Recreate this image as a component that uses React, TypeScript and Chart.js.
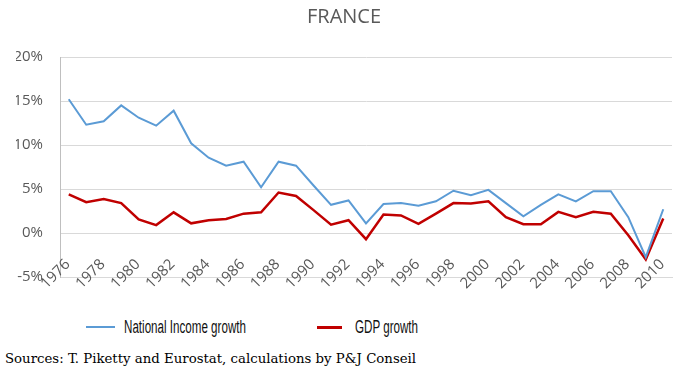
import React, { useEffect, useRef } from "react";
import { Chart, registerables } from "chart.js";

Chart.register(...registerables);

const years = [
  "1976", "1977", "1978", "1979", "1980", "1981", "1982", "1983", "1984", "1985",
  "1986", "1987", "1988", "1989", "1990", "1991", "1992", "1993", "1994", "1995",
  "1996", "1997", "1998", "1999", "2000", "2001", "2002", "2003", "2004", "2005",
  "2006", "2007", "2008", "2009", "2010",
];

const nationalIncomeGrowth = [
  15.2, 12.3, 12.7, 14.5, 13.1, 12.2, 13.9, 10.2, 8.55, 7.65,
  8.1, 5.2, 8.1, 7.65, 5.4, 3.2, 3.7, 1.1, 3.3, 3.4,
  3.1, 3.6, 4.8, 4.3, 4.9, 3.4, 1.9, 3.2, 4.4, 3.6,
  4.75, 4.75, 1.8, -2.75, 2.7,
];

const gdpGrowth = [
  4.4, 3.5, 3.85, 3.4, 1.55, 0.9, 2.35, 1.1, 1.45, 1.6,
  2.2, 2.35, 4.6, 4.2, 2.6, 0.95, 1.45, -0.7, 2.1, 2.0,
  1.05, 2.2, 3.4, 3.35, 3.6, 1.8, 1.0, 1.0, 2.4, 1.8,
  2.4, 2.2, -0.25, -3.0, 1.65,
];

const seriesNames = ["National Income growth", "GDP growth"];
const yTicks = [-5, 0, 5, 10, 15, 20];
const titleText = "FRANCE";
const sourceText = "Sources: T. Piketty and Eurostat, calculations by P&J Conseil";

const BLUE = "#5b9bd5";
const RED = "#c00000";
const GREY = "#595959";
const TICK_FONT = "15px 'Open Sans', sans-serif";

// Draws the rotated year labels so that they overlap the bottom of the plot,
// as in the original spreadsheet chart. Positions come from the x scale.
const rotatedXLabels = {
  id: "rotatedXLabels",
  afterDraw(chart: any) {
    const xs = chart.scales.x;
    const ctx = chart.ctx;
    ctx.save();
    ctx.font = TICK_FONT;
    ctx.fillStyle = GREY;
    ctx.textAlign = "right";
    ctx.textBaseline = "middle";
    years.forEach((label, i) => {
      if (i % 2 !== 0) return;
      const x = xs.getPixelForValue(i);
      ctx.save();
      ctx.translate(x - 1, xs.top - 15);
      ctx.rotate(-Math.PI / 4);
      ctx.fillText(label, 0, 0);
      ctx.restore();
    });
    ctx.restore();
  },
};

export default function App() {
  const canvasRef = useRef<HTMLCanvasElement | null>(null);

  useEffect(() => {
    const canvas = canvasRef.current;
    if (!canvas) return;
    const chart = new Chart(canvas, {
      type: "line",
      data: {
        labels: years,
        datasets: [
          {
            label: seriesNames[0],
            data: nationalIncomeGrowth,
            borderColor: BLUE,
            backgroundColor: BLUE,
            borderWidth: 2,
            pointRadius: 0,
            tension: 0,
          },
          {
            label: seriesNames[1],
            data: gdpGrowth,
            borderColor: RED,
            backgroundColor: RED,
            borderWidth: 2.5,
            pointRadius: 0,
            tension: 0,
          },
        ],
      },
      options: {
        responsive: false,
        animation: false,
        layout: { padding: { left: 16, right: 10, top: 0, bottom: 0 } },
        plugins: {
          legend: { display: false },
          tooltip: { enabled: false },
          title: {
            display: true,
            text: titleText,
            color: GREY,
            font: { family: "'Open Sans', sans-serif", size: 20, weight: "normal" },
            padding: { top: 5, bottom: 28 },
          },
        },
        scales: {
          x: {
            offset: true,
            grid: { display: false, drawTicks: false },
            border: { display: true, color: "#d9d9d9", width: 1 },
            ticks: { display: false },
            afterFit: (s: any) => {
              s.height = 33;
            },
          },
          y: {
            min: -5,
            max: 20,
            afterBuildTicks: (s: any) => {
              s.ticks = yTicks.map((v) => ({ value: v }));
            },
            grid: { color: "#d9d9d9", drawTicks: false, lineWidth: 1 },
            border: { display: true, color: "#bfbfbf", width: 1 },
            ticks: {
              padding: 17,
              color: GREY,
              font: { family: "'Open Sans', sans-serif", size: 15 },
              callback: (v: any) => v + "%",
            },
            afterFit: (s: any) => {
              s.width = 44;
            },
          },
        },
      },
      plugins: [rotatedXLabels],
    });
    return () => chart.destroy();
  }, []);

  const legendText: React.CSSProperties = {
    position: "absolute",
    top: 316,
    fontFamily: "'Liberation Sans', Arial, sans-serif",
    fontSize: 18,
    color: "#111",
    whiteSpace: "nowrap",
    lineHeight: "22px",
    transform: "scaleX(0.645)",
    transformOrigin: "left center",
  };

  return (
    <div style={{ position: "absolute", left: 0, top: 0, width: 682, height: 378, background: "#fff", overflow: "hidden" }}>
      <canvas ref={canvasRef} width={682} height={310} style={{ position: "absolute", left: 0, top: 0 }} />
      <div style={{ position: "absolute", left: 86, top: 326, width: 29, height: 2, background: BLUE }} />
      <div style={{ ...legendText, left: 124 }}>{seriesNames[0]}</div>
      <div style={{ position: "absolute", left: 317, top: 326, width: 25, height: 3, background: RED }} />
      <div style={{ ...legendText, left: 355 }}>{seriesNames[1]}</div>
      <div
        style={{
          position: "absolute",
          left: 5,
          top: 349,
          fontFamily: "'DejaVu Serif', serif",
          fontSize: 13.3,
          color: "#000",
          whiteSpace: "nowrap",
          lineHeight: "20px",
        }}
      >
        {sourceText}
      </div>
    </div>
  );
}
